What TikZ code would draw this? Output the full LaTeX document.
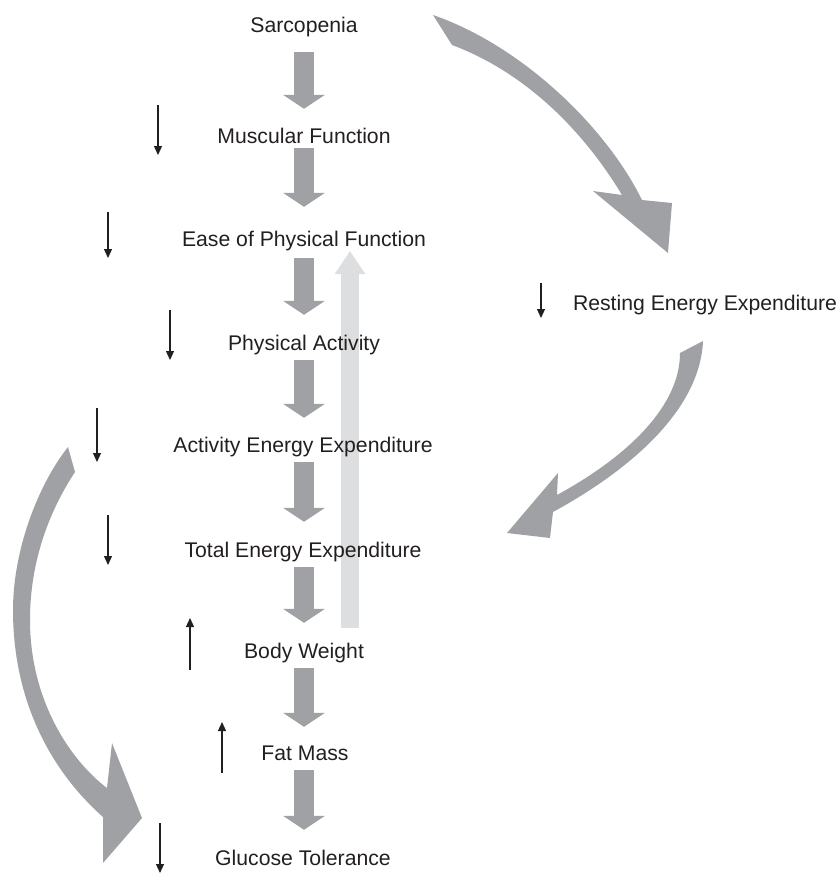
\documentclass[tikz,border=0pt]{standalone}
\usepackage{fontspec}
\setmainfont{Liberation Sans}
\usetikzlibrary{arrows.meta,backgrounds}
\definecolor{darkg}{RGB}{160,161,165}
\definecolor{lightg}{RGB}{221,222,224}
\definecolor{ink}{RGB}{35,31,32}
\begin{document}
\begin{tikzpicture}[x=1pt,y=-1pt,
  lbl/.style={anchor=base, inner sep=0pt, text height=15pt, text depth=5pt,
              font=\fontsize{21.2pt}{25pt}\selectfont, text=ink},
  flow/.style={draw=darkg, line width=20pt,
               -{Triangle[length=14pt,width=42pt,line width=0pt]},
               shorten <=5pt, shorten >=20pt},
  back/.style={draw=lightg, line width=18pt,
               -{Triangle[length=23pt,width=31pt,line width=0pt]}},
  ind/.style={draw=ink, line width=1.2pt, -{Triangle[length=9pt,width=8pt]}},
  curvy/.style={fill=darkg}]
\useasboundingbox (0,0) rectangle (839,873);

% labels
\node[lbl] (sarc) at (304,32)  {Sarcopenia};
\node[lbl] (musc) at (304,143) {Muscular Function};
\node[lbl] (ease) at (304,246) {Ease of Physical Function};
\node[lbl] (pa)   at (304,350) {Physical Activity};
\node[lbl] (aee)  at (303,452) {Activity Energy Expenditure};
\node[lbl] (tee)  at (303,557) {Total Energy Expenditure};
\node[lbl] (bw)   at (304,658) {Body Weight};
\node[lbl] (fm)   at (305,760) {Fat Mass};
\node[lbl] (gt)   at (303,865) {Glucose Tolerance};
\node[lbl] (ree)  at (705,310) {Resting Energy Expenditure};

% light feedback arrow, behind the labels
\coordinate (upx) at (350,0);
\begin{scope}[on background layer]
\draw[back, shorten <=15pt] (bw.north -| upx) -- (ease.south -| upx);
\end{scope}

% main chain
\draw[flow, shorten <=15pt, shorten >=19pt] (sarc.south) -- (musc.north);
\draw[flow, shorten <=0pt, shorten >=24pt] (musc.south) -- (ease.north);
\draw[flow, shorten <=7pt] (ease.south) -- (pa.north);
\draw[flow, shorten >=19pt] (pa.south) -- (aee.north -| pa.north);
\draw[flow] (aee.south -| pa.south) -- (tee.north -| pa.north);
\draw[flow] (tee.south -| pa.south) -- (bw.north);
\draw[flow, shorten >=18pt] (bw.south) -- (fm.north -| bw.north);
\draw[flow] (fm.south -| bw.south) -- (gt.north -| bw.north);

% curved arrows
\fill[curvy] (433,15) .. controls (520,45) and (605,125) .. (642,200)
  -- (672,203) -- (668,253) -- (593,191) -- (622,195)
  .. controls (595,150) and (540,78) .. (452,45) -- cycle;
\fill[curvy] (703,341) -- (680,353) .. controls (680,405) and (630,455) .. (557,495)
  -- (558,473) -- (507,533) -- (550,538) -- (553,512)
  .. controls (630,470) and (700,410) .. (703,341) -- cycle;
\fill[curvy] (68,447) .. controls (38,485) and (13,550) .. (13,610)
  .. controls (13,700) and (50,770) .. (103,817)
  -- (103,863) -- (142,818) -- (112,743) -- (107,788)
  .. controls (70,760) and (30,700) .. (30,620)
  .. controls (30,560) and (50,510) .. (75,472) -- cycle;

% indicator arrows
\draw[ind] (158,105) -- (158,155);
\draw[ind] (108,212) -- (108,258);
\draw[ind] (170,310) -- (170,360);
\draw[ind] (97,408) -- (97,462);
\draw[ind] (108,515) -- (108,565);
\draw[ind] (190,670) -- (190,618);
\draw[ind] (222,773) -- (222,722);
\draw[ind] (160,823) -- (160,873);
\draw[ind] (541,283) -- (541,318);
\end{tikzpicture}
\end{document}
